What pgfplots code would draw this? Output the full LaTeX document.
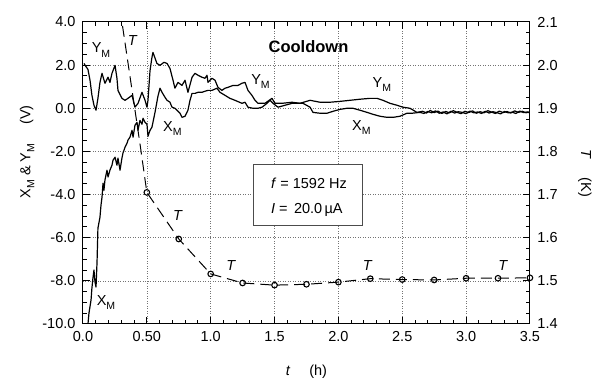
\documentclass[border=0pt]{standalone}
\usepackage{pgfplots}
\pgfplotsset{compat=1.18}
\usepackage{fontspec}
\setmainfont{Liberation Sans}
\newcommand\sub[1]{\raisebox{-0.55ex}{\fontsize{10.5}{10}\selectfont #1}}
\begin{document}
\begin{tikzpicture}
% hidden axis: grid lines and the dashed T curve
\begin{axis}[scale only axis, width=447pt, height=302pt, hide axis,
  xmin=0, xmax=3.5, ymin=1.4, ymax=2.1]
\draw[dotted, black!55, line width=0.5pt] (axis cs:0.5,1.4) -- (axis cs:0.5,2.1);
\draw[dotted, black!55, line width=0.5pt] (axis cs:1.0,1.4) -- (axis cs:1.0,2.1);
\draw[dotted, black!55, line width=0.5pt] (axis cs:1.5,1.4) -- (axis cs:1.5,2.1);
\draw[dotted, black!55, line width=0.5pt] (axis cs:2.0,1.4) -- (axis cs:2.0,2.1);
\draw[dotted, black!55, line width=0.5pt] (axis cs:2.5,1.4) -- (axis cs:2.5,2.1);
\draw[dotted, black!55, line width=0.5pt] (axis cs:3.0,1.4) -- (axis cs:3.0,2.1);
\draw[dotted, black!55, line width=0.5pt] (axis cs:0,1.5) -- (axis cs:3.5,1.5);
\draw[dotted, black!55, line width=0.5pt] (axis cs:0,1.6) -- (axis cs:3.5,1.6);
\draw[dotted, black!55, line width=0.5pt] (axis cs:0,1.7) -- (axis cs:3.5,1.7);
\draw[dotted, black!55, line width=0.5pt] (axis cs:0,1.8) -- (axis cs:3.5,1.8);
\draw[dotted, black!55, line width=0.5pt] (axis cs:0,1.9) -- (axis cs:3.5,1.9);
\draw[dotted, black!55, line width=0.5pt] (axis cs:0,2.0) -- (axis cs:3.5,2.0);
\addplot[black, line width=1pt, dash pattern=on 11pt off 6pt] coordinates {
(0.29,2.13)(0.35,2.01)(0.40,1.91)(0.45,1.81)(0.50,1.705)(0.75,1.597)(1.0,1.516)(1.25,1.495)(1.5,1.49)(1.75,1.492)
(2.0,1.497)(2.25,1.505)(2.5,1.503)(2.75,1.502)(3.0,1.506)(3.25,1.506)(3.5,1.507)
};
\addplot[only marks, mark=o, mark size=2.8pt, mark options={solid, black, line width=1.1pt}] coordinates {
(0.50,1.705)(0.75,1.597)(1.0,1.516)(1.25,1.495)(1.5,1.49)(1.75,1.492)
(2.0,1.497)(2.25,1.505)(2.5,1.503)(2.75,1.502)(3.0,1.506)(3.25,1.506)(3.5,1.507)
};
\end{axis}
\begin{axis}[name=main, scale only axis, width=447pt, height=302pt,
  xmin=0, xmax=3.5, ymin=-10, ymax=4,
  xtick={0,0.5,1,1.5,2,2.5,3,3.5}, xticklabels={0.0,0.50,1.0,1.5,2.0,2.5,3.0,3.5},
  ytick={-10,-8,-6,-4,-2,0,2,4}, yticklabels={-10.0,-8.0,-6.0,-4.0,-2.0,0.0,2.0,4.0},
  minor x tick num=4, minor y tick num=3,
  tick align=inside, xtick pos=both, ytick pos=left,
  major tick length=7pt, minor tick length=4pt,
  axis line style={line width=1pt}, tick style={solid, black, line width=1pt},
  tick label style={font=\fontsize{14.5}{16}\selectfont},
  xticklabel style={yshift=-4pt},
  yticklabel style={xshift=-4pt},
  every axis x label/.style={at={(axis description cs:0.5,-0.159)}, anchor=center, font=\fontsize{14.5}{16}\selectfont},
  every axis y label/.style={at={(axis description cs:-0.125,0.57)}, rotate=90, anchor=center, font=\fontsize{14.5}{16}\selectfont},
  xlabel={\textit{t}\hspace{1.3em}(h)},
  ylabel={X\sub{M} \& Y\sub{M}\hspace{1.3em}(V)}]
% Y_M
\addplot[black, line width=1.2pt, line join=round] coordinates {
(0.008,2.08)(0.016,2.0)(0.039,1.80)(0.055,1.30)(0.070,0.60)(0.086,0.14)(0.102,-0.09)(0.117,0.46)(0.133,1.20)(0.149,1.62)
(0.172,1.16)(0.196,1.44)(0.211,1.20)(0.227,1.62)(0.251,1.99)(0.266,1.39)(0.274,0.83)(0.305,0.46)(0.329,0.37)(0.352,0.46)
(0.384,0.60)(0.407,0.05)(0.431,0.23)(0.462,0.74)(0.486,0.37)(0.501,0.05)(0.509,0.37)(0.525,1.75)(0.540,2.36)(0.548,2.59)
(0.579,2.08)(0.603,1.99)(0.634,2.13)(0.658,2.08)(0.681,1.85)(0.705,1.30)(0.720,0.93)(0.744,1.20)(0.775,1.06)(0.799,1.30)
(0.822,0.74)(0.854,1.44)(0.877,1.62)(0.901,1.53)(0.932,1.44)(0.955,1.39)(0.971,1.53)(0.979,1.20)(1.010,1.39)(1.034,1.30)
(1.057,0.97)(1.088,0.83)(1.112,0.93)(1.135,0.97)(1.175,1.06)(1.214,1.06)(1.245,1.16)(1.269,1.20)(1.292,0.83)(1.323,0.60)
(1.347,0.37)(1.370,0.23)(1.425,0.23)(1.480,0.46)(1.504,0.23)(1.558,0.23)(1.637,0.28)(1.699,0.23)(1.778,0.37)(1.856,0.28)
(1.934,0.28)(2.013,0.32)(2.091,0.37)(2.169,0.42)(2.247,0.46)(2.302,0.46)(2.349,0.37)(2.404,0.23)(2.459,0.14)(2.506,0.05)
(2.561,0.00)(2.615,-0.19)(2.66,-0.14)(2.69,-0.22)(2.72,-0.10)(2.75,-0.20)(2.78,-0.13)(2.81,-0.24)(2.84,-0.15)(2.87,-0.21)
(2.90,-0.11)(2.93,-0.19)(2.96,-0.25)(2.99,-0.14)(3.02,-0.20)(3.05,-0.12)(3.08,-0.23)(3.11,-0.16)(3.14,-0.21)(3.17,-0.11)
(3.20,-0.18)(3.23,-0.24)(3.26,-0.13)(3.29,-0.20)(3.32,-0.15)(3.35,-0.22)(3.38,-0.12)(3.41,-0.19)(3.44,-0.14)(3.47,-0.21)(3.50,-0.16)
};
% X_M
\addplot[black, line width=1.2pt, line join=round] coordinates {
(0.039,-10.0)(0.047,-9.49)(0.063,-8.89)(0.070,-8.33)(0.078,-7.87)(0.086,-7.50)(0.094,-8.06)(0.102,-8.29)(0.110,-7.13)(0.117,-5.56)
(0.133,-5.05)(0.141,-4.49)(0.149,-4.12)(0.157,-3.47)(0.164,-3.80)(0.172,-3.33)(0.188,-2.87)(0.196,-3.19)(0.211,-2.87)(0.227,-2.64)
(0.235,-2.41)(0.251,-2.27)(0.266,-2.64)(0.274,-2.31)(0.290,-2.87)(0.305,-2.31)(0.313,-2.08)(0.329,-1.81)(0.345,-1.62)(0.352,-1.48)
(0.368,-1.34)(0.384,-1.02)(0.392,-1.34)(0.407,-0.79)(0.423,-0.65)(0.431,-1.02)(0.446,-0.56)(0.462,-0.74)(0.470,-0.46)(0.486,-0.65)
(0.501,-0.74)(0.509,-1.30)(0.525,-1.02)(0.540,-0.88)(0.564,-0.19)(0.587,0.56)(0.603,0.93)(0.619,0.74)(0.642,0.51)(0.658,0.37)
(0.681,0.28)(0.697,0.05)(0.720,0.00)(0.736,-0.09)(0.760,-0.23)(0.775,-0.42)(0.799,-0.37)(0.822,-0.09)(0.838,0.37)(0.854,0.69)
(0.877,0.69)(0.901,0.74)(0.932,0.74)(0.955,0.79)(0.979,0.83)(1.010,0.83)(1.049,0.93)(1.073,0.74)(1.112,0.60)(1.151,0.46)
(1.190,0.37)(1.245,0.23)(1.269,0.28)(1.292,0.05)(1.331,0.00)(1.370,0.00)(1.402,0.05)(1.441,0.23)(1.464,0.37)(1.488,0.23)
(1.527,0.05)(1.582,0.14)(1.637,0.23)(1.723,0.23)(1.778,0.05)(1.801,-0.19)(1.856,-0.23)(1.911,-0.23)(1.958,-0.14)(2.013,-0.05)
(2.067,0.00)(2.114,0.00)(2.169,-0.09)(2.224,-0.19)(2.271,-0.28)(2.326,-0.37)(2.381,-0.42)(2.428,-0.42)(2.482,-0.37)(2.537,-0.23)
(2.576,-0.23)(2.639,-0.19)(2.67,-0.24)(2.70,-0.15)(2.73,-0.21)(2.76,-0.12)(2.79,-0.23)(2.82,-0.17)(2.85,-0.26)(2.88,-0.14)
(2.91,-0.22)(2.94,-0.16)(2.97,-0.19)(3.00,-0.25)(3.03,-0.13)(3.06,-0.21)(3.09,-0.17)(3.12,-0.24)(3.15,-0.14)(3.18,-0.22)
(3.21,-0.16)(3.24,-0.20)(3.27,-0.26)(3.30,-0.15)(3.33,-0.21)(3.36,-0.18)(3.39,-0.24)(3.42,-0.13)(3.45,-0.20)(3.48,-0.17)(3.50,-0.22)
};
\draw[black!70, line width=0.6pt, fill=white] (axis cs:1.331,-2.59) rectangle (axis cs:2.185,-5.42);
\node[anchor=west, font=\fontsize{14.5}{16}\selectfont] at (axis cs:1.445,-3.47) {\textit{f} = 1592 Hz};
\node[anchor=west, font=\fontsize{14.5}{16}\selectfont] at (axis cs:1.445,-4.72) {\textit{I} =\, 20.0\,µA};
\node[font=\bfseries\fontsize{16.5}{18}\selectfont] at (axis cs:1.766,2.87) {Cooldown};
\begin{scope}[every node/.style={font=\fontsize{14.5}{16}\selectfont}]
\node at (axis cs:0.141,2.7) {Y\sub{M}};
\node at (axis cs:0.70,-0.93) {X\sub{M}};
\node at (axis cs:0.18,-9.0) {X\sub{M}};
\node at (axis cs:1.39,1.25) {Y\sub{M}};
\node at (axis cs:2.34,1.11) {Y\sub{M}};
\node at (axis cs:2.18,-0.88) {X\sub{M}};
\node at (axis cs:0.39,3.15) {\textit{T}};
\node at (axis cs:0.744,-4.95) {\textit{T}};
\node at (axis cs:1.16,-7.27) {\textit{T}};
\node at (axis cs:2.23,-7.27) {\textit{T}};
\node at (axis cs:3.29,-7.27) {\textit{T}};
\end{scope}
\end{axis}
\begin{axis}[scale only axis, width=447pt, height=302pt,
  xmin=0, xmax=3.5, ymin=1.4, ymax=2.1,
  axis x line=none, axis y line*=right,
  ytick={1.4,1.5,1.6,1.7,1.8,1.9,2.0,2.1}, yticklabels={1.4,1.5,1.6,1.7,1.8,1.9,2.0,2.1},
  minor y tick num=3, tick align=inside, ytick pos=right,
  major tick length=7pt, minor tick length=4pt,
  axis line style={line width=1pt}, tick style={solid, black, line width=1pt},
  tick label style={font=\fontsize{14.5}{16}\selectfont},
  yticklabel style={xshift=4pt},
  every axis y label/.style={at={(axis description cs:1.123,0.5)}, rotate=-90, anchor=center, font=\fontsize{14.5}{16}\selectfont},
  ylabel={\textit{T}\hspace{1.3em}(K)}]
\end{axis}
\path (main.south west) ++(-83pt,-55pt) rectangle ++(595pt,379pt);
\end{tikzpicture}
\end{document}
